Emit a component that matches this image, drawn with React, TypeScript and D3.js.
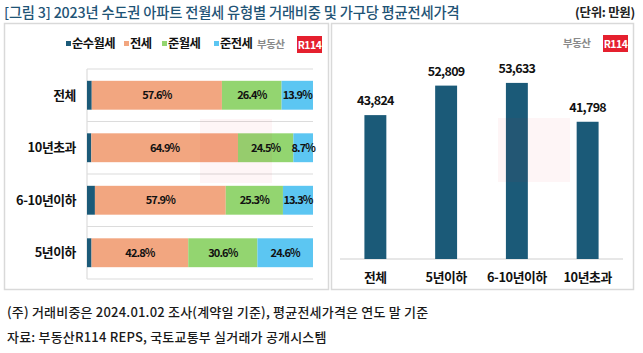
import React from "react";
import * as d3 from "d3";

const titleText = "[그림 3] 2023년 수도권 아파트 전월세 유형별 거래비중 및 가구당 평균전세가격";
const unitText = "(단위: 만원)";
const note1 = "(주) 거래비중은 2024.01.02 조사(계약일 기준), 평균전세가격은 연도 말 기준";
const note2 = "자료: 부동산R114 REPS, 국토교통부 실거래가 공개시스템";

const shareCategories = ["전체", "10년초과", "6-10년이하", "5년이하"];
const seriesNames = ["순수월세", "전세", "준월세", "준전세"];
const pureMonthly = [2.1, 1.9, 3.5, 2.0];
const jeonse = [57.6, 64.9, 57.9, 42.8];
const semiMonthly = [26.4, 24.5, 25.3, 30.6];
const semiJeonse = [13.9, 8.7, 13.3, 24.6];
const seriesColors = ["#1b5a78", "#f2a680", "#93d570", "#5cc6f2"];

const priceCategories = ["전체", "5년이하", "6-10년이하", "10년초과"];
const prices = [43824, 52809, 53633, 41798];

const FONT = "'Noto Sans CJK KR', 'Noto Sans', sans-serif";

function Logo({ x, y }: { x: number; y: number }) {
  return (
    <g>
      <text x={x} y={y + 12} fontFamily={FONT} fontSize={10.5} fontWeight={700} fill="#8a8a8a" letterSpacing={-0.5}>
        부동산
      </text>
      <rect x={x + 40} y={y} width={25} height={17} fill="#e5202e" />
      <text x={x + 52.5} y={y + 12.5} textAnchor="middle" fontFamily={FONT} fontSize={10.5} fontWeight={700} fill="#fff" letterSpacing={-0.5}>
        R114
      </text>
    </g>
  );
}

function Watermark({ x, y }: { x: number; y: number }) {
  return <rect x={x} y={y} width={72} height={64} fill="#e5202e" opacity={0.045} />;
}

export default function App() {
  const series = [pureMonthly, jeonse, semiMonthly, semiJeonse];

  const x = d3.scaleLinear().domain([0, 100]).range([87, 313]);
  const y = d3
    .scaleBand<string>()
    .domain(shareCategories)
    .range([69, 279])
    .paddingInner(0.45)
    .paddingOuter(0.225);

  const stacked = shareCategories.map((c, i) => {
    let acc = 0;
    return series.map((s, k) => {
      const start = acc;
      acc += s[i];
      return { cat: c, k, start, end: acc, value: s[i] };
    });
  });
  const boundaries = d3.range(shareCategories.length + 1).map((i) => 69 + i * y.step());

  const bx = d3.scaleBand<string>().domain(priceCategories).range([340, 623]).paddingInner(0.69).paddingOuter(0.345);
  const by = d3.scaleLinear().domain([0, 60000]).range([259, 62]);
  const fmt = d3.format(",");

  const legendX = [66, 124, 162, 214];

  return (
    <svg width={643} height={353} style={{ position: "absolute", left: 0, top: 0, background: "#fff" }}>
      <rect x={0} y={0} width={643} height={353} fill="#fff" />
      <text x={4} y={18} fontFamily={FONT} fontSize={14.3} fontWeight={500} fill="#1f5476" letterSpacing={-0.2}>
        {titleText}
      </text>
      <text x={635} y={17} textAnchor="end" fontFamily={FONT} fontSize={12.5} fontWeight={700} fill="#222" letterSpacing={-0.3}>
        {unitText}
      </text>

      <rect x={4.5} y={23.5} width={324} height={266} fill="#fff" stroke="#d9d9d9" strokeWidth={1.5} />
      <rect x={331.5} y={23.5} width={302} height={266} fill="#fff" stroke="#d9d9d9" strokeWidth={1.5} />

      {/* Left chart */}
      {boundaries.map((b, i) => (
        <line key={i} x1={87} x2={313} y1={b} y2={b} stroke="#dcdcdc" strokeWidth={1.2} />
      ))}
      <line x1={87} x2={87} y1={69} y2={279} stroke="#dcdcdc" strokeWidth={1.2} />
      {stacked.map((row) =>
        row.map((seg) => (
          <rect
            key={seg.cat + seg.k}
            x={x(seg.start)}
            y={y(seg.cat)!}
            width={x(seg.end) - x(seg.start)}
            height={y.bandwidth()}
            fill={seriesColors[seg.k]}
          />
        ))
      )}
      <Watermark x={200} y={119} />
      {stacked.map((row) =>
        row
          .filter((seg) => seg.k > 0)
          .map((seg) => (
            <text
              key={"l" + seg.cat + seg.k}
              x={(x(seg.start) + x(seg.end)) / 2}
              y={y(seg.cat)! + y.bandwidth() / 2 + 4}
              textAnchor="middle"
              fontFamily={FONT}
              fontSize={11}
              fontWeight={700}
              fill="#111"
              letterSpacing={-0.9}
            >
              {seg.value.toFixed(1)}%
            </text>
          ))
      )}
      {shareCategories.map((c) => (
        <text
          key={"c" + c}
          x={76}
          y={y(c)! + y.bandwidth() / 2 + 4.5}
          textAnchor="end"
          fontFamily={FONT}
          fontSize={12.8}
          fontWeight={700}
          fill="#111"
          letterSpacing={-0.4}
        >
          {c}
        </text>
      ))}
      {seriesNames.map((n, k) => (
        <g key={"lg" + n}>
          <rect x={legendX[k]} y={41} width={5} height={5} fill={seriesColors[k]} />
          <text x={legendX[k] + 6} y={47.5} fontFamily={FONT} fontSize={12.3} fontWeight={700} fill="#111" letterSpacing={-0.6}>
            {n}
          </text>
        </g>
      ))}
      <Logo x={257} y={36} />

      {/* Right chart */}
      <line x1={340} x2={623} y1={259} y2={259} stroke="#d0d0d0" strokeWidth={1.2} />
      {priceCategories.map((c, i) => (
        <rect key={"b" + c} x={bx(c)!} y={by(prices[i])} width={bx.bandwidth()} height={by(0) - by(prices[i])} fill={seriesColors[0]} />
      ))}
      <Watermark x={498} y={118} />
      {priceCategories.map((c, i) => (
        <text
          key={"v" + c}
          x={bx(c)! + bx.bandwidth() / 2}
          y={by(prices[i]) - 10}
          textAnchor="middle"
          fontFamily={FONT}
          fontSize={12.5}
          fontWeight={700}
          fill="#111"
          letterSpacing={-0.7}
        >
          {fmt(prices[i])}
        </text>
      ))}
      {priceCategories.map((c) => (
        <text
          key={"rc" + c}
          x={bx(c)! + bx.bandwidth() / 2}
          y={282}
          textAnchor="middle"
          fontFamily={FONT}
          fontSize={12.8}
          fontWeight={700}
          fill="#111"
          letterSpacing={-0.4}
        >
          {c}
        </text>
      ))}
      <Logo x={563} y={35} />

      <text x={7} y={317} fontFamily={FONT} fontSize={13} fontWeight={500} fill="#1a1a1a" letterSpacing={0.2}>
        {note1}
      </text>
      <text x={7} y={342} fontFamily={FONT} fontSize={13} fontWeight={500} fill="#1a1a1a" letterSpacing={0.2}>
        {note2}
      </text>
    </svg>
  );
}
